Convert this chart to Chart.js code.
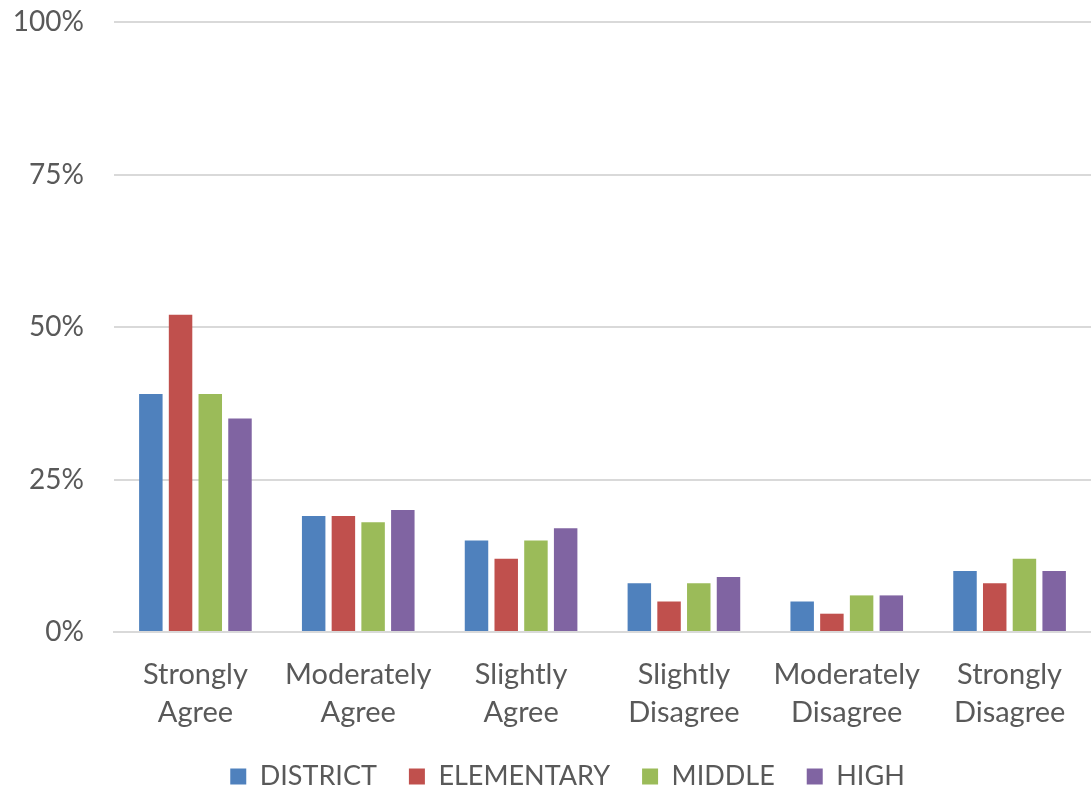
<!DOCTYPE html>
<html>
<head>
<meta charset="utf-8">
<script src="https://cdn.jsdelivr.net/npm/chart.js@4/dist/chart.umd.min.js"></script>
<style>
  html, body { margin: 0; padding: 0; background: #fff; }
  #wrap { width: 1091px; height: 793px; }
</style>
</head>
<body>
<div id="wrap"><canvas id="chart" width="1091" height="793"></canvas></div>
<script>
const categories = [
  ['Strongly', 'Agree'],
  ['Moderately', 'Agree'],
  ['Slightly', 'Agree'],
  ['Slightly', 'Disagree'],
  ['Moderately', 'Disagree'],
  ['Strongly', 'Disagree'],
];
const district = [39, 19, 15, 8, 5, 10];
const elementary = [52, 19, 12, 5, 3, 8];
const middle = [39, 18, 15, 8, 6, 12];
const high = [35, 20, 17, 9, 6, 10];
const yTicks = [0, 25, 50, 75, 100];

const textColor = '#595959';
const gridColor = '#d9d9d9';
const fontFamily = 'Lato, "Noto Sans", sans-serif';

const ctx = document.getElementById('chart').getContext('2d');

const mkSet = (label, data, color) => ({
  label: label,
  data: data,
  backgroundColor: color,
  borderColor: color,
  borderWidth: 0,
  barPercentage: 0.79,
  categoryPercentage: 0.73,
});

// nudge the legend a bit right, like the original
const legendShift = {
  id: 'legendShift',
  afterLayout(chart) {
    chart.legend.left += 44;
  },
};

new Chart(ctx, {
  type: 'bar',
  data: {
    labels: categories,
    datasets: [
      mkSet('DISTRICT', district, '#4f81bd'),
      mkSet('ELEMENTARY', elementary, '#c0504d'),
      mkSet('MIDDLE', middle, '#9bbb59'),
      mkSet('HIGH', high, '#8064a2'),
    ],
  },
  plugins: [legendShift],
  options: {
    responsive: false,
    animation: false,
    layout: { padding: { top: 22, right: 0, left: 0, bottom: -7 } },
    plugins: {
      tooltip: { enabled: false },
      legend: {
        position: 'bottom',
        labels: {
          color: textColor,
          font: { family: fontFamily, size: 27 },
          boxWidth: 16,
          boxHeight: 16,
          padding: 32,
        },
      },
    },
    scales: {
      x: {
        afterFit: (scale) => { scale.height = 99; },
        grid: { display: false, drawTicks: false },
        border: { color: gridColor, width: 2 },
        ticks: {
          color: textColor,
          font: { family: fontFamily, size: 29, lineHeight: 1.3 },
          padding: 24,
          maxRotation: 0,
        },
      },
      y: {
        min: 0,
        max: 100,
        afterFit: (scale) => {
          scale.width = 114;
          scale.paddingTop = 0;
          scale.paddingBottom = 0;
        },
        afterBuildTicks: (scale) => {
          scale.ticks = yTicks.map((v) => ({ value: v }));
        },
        grid: { color: gridColor, lineWidth: 2, drawTicks: false },
        border: { display: false },
        ticks: {
          color: textColor,
          font: { family: fontFamily, size: 28 },
          padding: 30,
          callback: (v) => v + '%',
        },
      },
    },
  },
});
</script>
</body>
</html>
